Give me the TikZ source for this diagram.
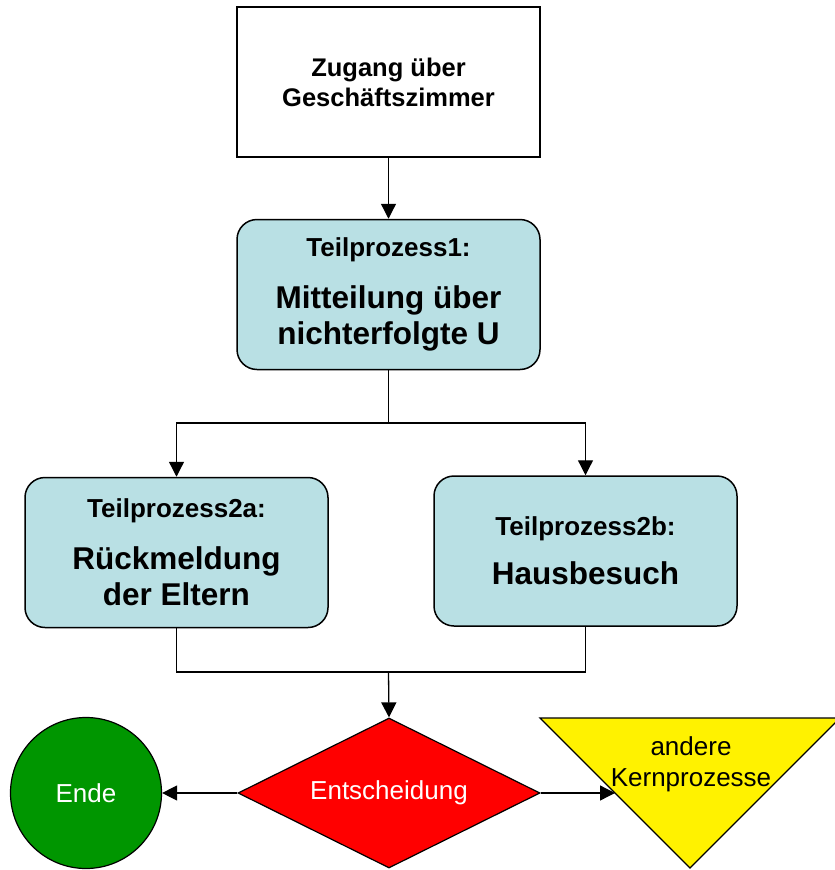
\documentclass[tikz,border=0pt]{standalone}
\usepackage{fontspec}
\setmainfont{Liberation Sans}
\usetikzlibrary{shapes.geometric,arrows.meta}
\definecolor{tpblau}{RGB}{185,224,228}
\definecolor{endegruen}{RGB}{0,150,0}
\tikzset{
  startbox/.style={draw,line width=1.5pt,fill=white,minimum width=303pt,
    minimum height=150pt,align=center,font=\fontsize{25.5}{30}\selectfont\bfseries},
  prozess/.style={draw,line width=1.5pt,rounded corners=20pt,fill=tpblau,
    minimum width=303pt,minimum height=150pt,align=center,
    font=\fontsize{31.5}{36}\selectfont\bfseries},
  entscheid/.style={diamond,aspect=2,draw,line width=1.2pt,fill=red,text=white,
    inner sep=0pt,minimum width=302pt,minimum height=150pt,
    font=\fontsize{26}{30}\selectfont},
  ende/.style={circle,draw,line width=1.2pt,fill=endegruen,text=white,
    minimum size=151pt,font=\fontsize{26}{30}\selectfont},
  linie/.style={line width=1.3pt},
  pfeil/.style={linie,-{Triangle[length=15pt,width=15pt]}}
}
\newcommand{\tptitel}[1]{{\fontsize{26}{30}\selectfont #1}}
\begin{document}
\begin{tikzpicture}[x=1pt,y=-1pt]
  \useasboundingbox (0,0) rectangle (835,870);
  \coordinate (split) at (388.5,423);
  \coordinate (join) at (388.5,672);
  \coordinate (kernin) at (615,793);
  % \draw[help lines,step=50] (0,0) grid (835,870);
  \node[startbox] (zugang) at (388.5,82) {Zugang über\\Geschäftszimmer};
  \node[prozess] (tp1) at (388.5,294.5)
  {\tptitel{Teilprozess1:}\\[16pt]Mitteilung über\\nichterfolgte U};
  \node[prozess] (tp2a) at (176.5,552.5)
  {\tptitel{Teilprozess2a:}\\[16pt]Rückmeldung\\der Eltern};
  \node[prozess] (tp2b) at (585.5,551)
  {\tptitel{Teilprozess2b:}\\[13pt]Hausbesuch};
  \node[entscheid] (dec) at (389,793) {Entscheidung};
  \node[ende] (ende) at (86,793) {Ende};
  \draw[line width=1.2pt,fill=yellow] (540,718) -- (840,718) -- (690,868) -- cycle;
  \node[align=center,font=\fontsize{26}{31}\selectfont] (kern) at (691,764)
  {andere\\Kernprozesse};

  \draw[pfeil] (zugang) -- (tp1);
  \draw[pfeil] (tp1.south) -- (split) -| (tp2a.north);
  \draw[pfeil] (split) -| (tp2b.north);
  \draw[linie] (tp2a.south) |- (join);
  \draw[linie] (tp2b.south) |- (join);
  \draw[pfeil] (join) -- (dec.north);
  \draw[pfeil] (dec.west) -- (ende.east);
  \draw[pfeil] (dec.east) -- (kernin);
\end{tikzpicture}
\end{document}
